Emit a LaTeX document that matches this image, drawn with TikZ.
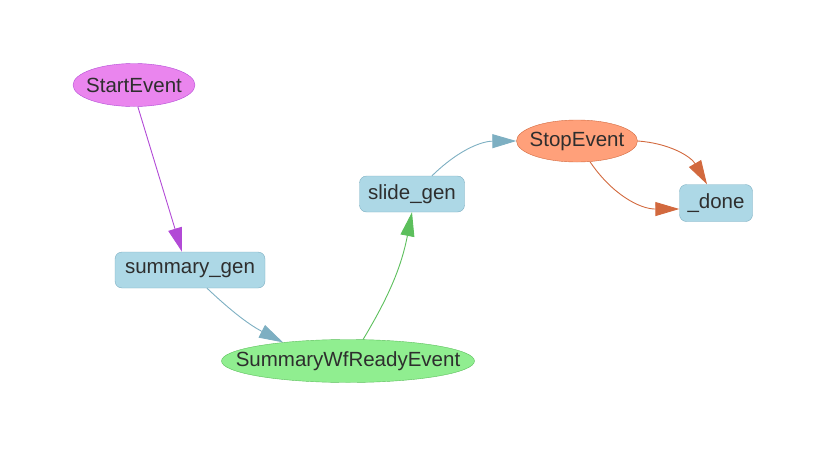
\documentclass[tikz,border=0pt]{standalone}
\usepackage{fontspec}
\setmainfont{Liberation Sans}
\usetikzlibrary{arrows.meta,shapes.geometric}
\newcommand{\evlabel}[1]{\makebox[0pt]{#1}}

\definecolor{evviolet}{HTML}{EA85EE}
\definecolor{evvioletdk}{HTML}{B24AD6}
\definecolor{stepblue}{HTML}{ADD8E6}
\definecolor{stepbluedk}{HTML}{7DAFC2}
\definecolor{evgreen}{HTML}{90EE90}
\definecolor{evgreendk}{HTML}{5CBF5C}
\definecolor{evsalmon}{HTML}{FFA07A}
\definecolor{evsalmondk}{HTML}{D2693E}
\definecolor{txt}{HTML}{2E2E2E}

\tikzset{
	event/.style={ellipse,draw,inner sep=0pt,minimum height=43pt,text=txt},
	stepnode/.style={rectangle,rounded corners=7pt,draw=stepbluedk,fill=stepblue,minimum height=36pt,inner sep=0pt,text=txt},
	tip/.style={-{Triangle[length=24pt,width=14pt]},line width=0.9pt},
}

\begin{document}
\begin{tikzpicture}[x=1pt,y=-1pt,font=\fontsize{20.5}{24}\selectfont]
				\useasboundingbox (0,0) rectangle (839,453);
				\node[event,fill=evviolet,draw=evvioletdk,minimum width=122pt] (start) at (134,85) {\evlabel{StartEvent}};
				\node[stepnode,minimum width=150pt] (sumgen) at (190,270) {summary\_gen};
				\node[event,fill=evgreen,draw=evgreendk,minimum width=253pt] (ready) at (348,361) {\evlabel{SummaryWfReadyEvent}};
				\node[stepnode,minimum width=105pt] (slidegen) at (412,194) {slide\_gen};
				\node[event,fill=evsalmon,draw=evsalmondk,minimum width=121pt,minimum height=42pt] (stop) at (577,141) {\evlabel{StopEvent}};
				\node[stepnode,minimum width=73pt,minimum height=37pt] (done) at (716,203) {\_done};
				\draw[tip,evvioletdk] (start.280) to ([xshift=-8pt]sumgen.north);
				\draw[tip,stepbluedk] ([xshift=17pt]sumgen.south) to[bend right=8] (ready.164);
				\draw[tip,evgreendk] (ready.55) to[bend right=10] (slidegen.south);
				\draw[tip,stepbluedk] ([xshift=20pt]slidegen.north) to[bend left=22] (stop.west);
				\draw[tip,evsalmondk] (stop.east) to[bend left=28] ([xshift=-9pt]done.north);
				\draw[tip,evsalmondk] (stop.302) to[bend right=28] ([yshift=-6pt]done.west);
			\end{tikzpicture}
\end{document}
